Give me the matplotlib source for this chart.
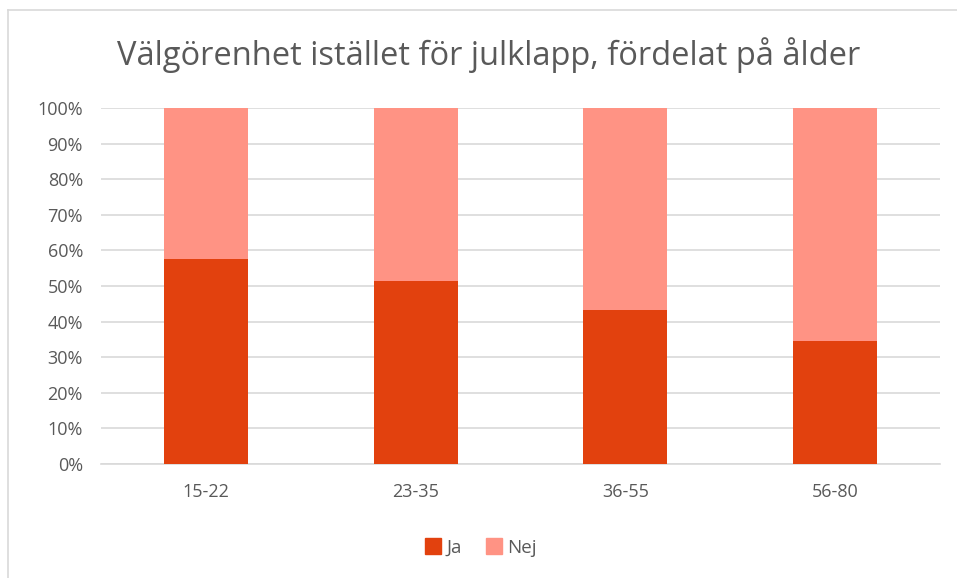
import numpy as np
import matplotlib.pyplot as plt
from matplotlib.lines import Line2D
from matplotlib.ticker import PercentFormatter

# data
age_groups = ["15-22", "23-35", "36-55", "56-80"]
ja_share = [57.6, 51.5, 43.3, 34.6]
nej_share = [100 - v for v in ja_share]

ja_color = "#E2410E"
nej_color = "#FF9384"
text_color = "#595959"

plt.rcParams["font.family"] = ["Open Sans", "DejaVu Sans"]

fig = plt.figure(figsize=(9.57, 5.78), dpi=100)
ax = fig.add_axes([101 / 957, 1 - 464 / 578, 839 / 957, 356 / 578])

x = np.arange(len(age_groups))
ax.bar(x, ja_share, width=0.4, color=ja_color, label="Ja", zorder=3)
ax.bar(x, nej_share, width=0.4, bottom=ja_share, color=nej_color, label="Nej", zorder=3)

ax.set_xlim(-0.5, len(age_groups) - 0.5)
ax.set_ylim(0, 100)
ax.set_yticks(np.arange(0, 101, 10))
ax.yaxis.set_major_formatter(PercentFormatter(decimals=0))
ax.set_xticks(x)
ax.set_xticklabels(age_groups)
ax.grid(axis="y", color="#D9D9D9", linewidth=1.2, zorder=0)
for s in ["top", "right", "left"]:
    ax.spines[s].set_visible(False)
ax.spines["bottom"].set_color("#D9D9D9")
ax.spines["bottom"].set_linewidth(1.2)
ax.tick_params(axis="both", length=0, labelsize=13, colors=text_color)
ax.tick_params(axis="y", pad=13)
ax.tick_params(axis="x", pad=14)

fig.text(489 / 957, 1 - 55 / 578, "Välgörenhet istället för julklapp, fördelat på ålder",
         ha="center", va="center", fontsize=23.5, color=text_color)

handles = [Line2D([], [], marker="s", linestyle="", markersize=11, color=ja_color),
           Line2D([], [], marker="s", linestyle="", markersize=11, color=nej_color)]
fig.legend(handles, ["Ja", "Nej"], loc="center", bbox_to_anchor=(480 / 957, 1 - 548 / 578),
           ncol=2, frameon=False, fontsize=13.5, labelcolor=text_color,
           handletextpad=0.2, columnspacing=1.2, handlelength=1.0)

# chart area border (partly cropped in the reference)
fig.add_artist(Line2D([8 / 957, 8 / 957], [0, 1 - 10 / 578], color="#D9D9D9", linewidth=1.2))
fig.add_artist(Line2D([8 / 957, 1], [1 - 10 / 578, 1 - 10 / 578], color="#D9D9D9", linewidth=1.2))

fig.savefig("out.png", dpi=100)
